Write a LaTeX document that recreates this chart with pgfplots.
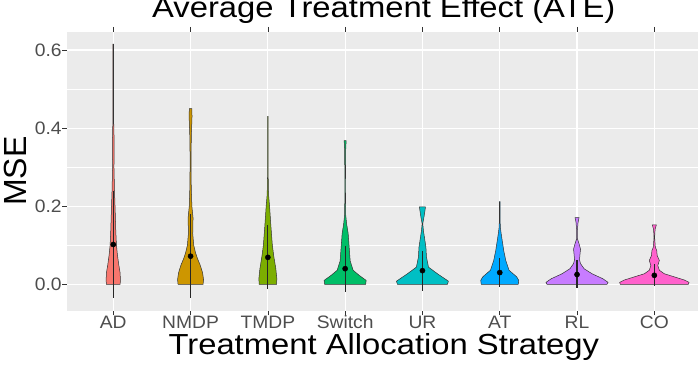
\documentclass[border=0pt]{standalone}
\usepackage{pgfplots}
\pgfplotsset{compat=1.18}
\usepackage{fontspec}
\setmainfont{Liberation Sans}
\newfontfamily\titlefont{Liberation Sans}[FakeStretch=1.13]
\newfontfamily\tickfont{Liberation Sans}[FakeStretch=1.07]

\definecolor{cAD}{HTML}{F8766D}
\definecolor{cNMDP}{HTML}{CD9600}
\definecolor{cTMDP}{HTML}{7CAE00}
\definecolor{cSwitch}{HTML}{00BE67}
\definecolor{cUR}{HTML}{00BFC4}
\definecolor{cAT}{HTML}{00A9FF}
\definecolor{cRL}{HTML}{C77CFF}
\definecolor{cCO}{HTML}{FF61CC}
\definecolor{panel}{HTML}{EBEBEB}
\definecolor{grey30}{HTML}{4D4D4D}
\definecolor{grey20}{HTML}{333333}

% mean and mean +/- sd per strategy
\pgfplotstableread{
x m ep em
1 0.102 0.137 0.138
2 0.072 0.109 0.108
3 0.069 0.083 0.082
4 0.040 0.059 0.060
5 0.035 0.051 0.052
6 0.030 0.038 0.037
7 0.025 0.036 0.034
8 0.023 0.030 0.028
}\meansd

\begin{document}
\begin{tikzpicture}[x=1pt,y=1pt]
\begin{axis}[
  at={(66.9pt,58.3pt)}, anchor=south west,
  scale only axis, width=633.8pt, height=279pt,
  xmin=0.4, xmax=8.6, ymin=-0.0676, ymax=0.6469,
  axis background/.style={fill=panel},
  axis line style={draw=none},
  xtick={1,...,8}, xticklabels={AD,NMDP,TMDP,Switch,UR,AT,RL,CO},
  ytick={0,0.2,0.4,0.6}, yticklabels={0.0,0.2,0.4,0.6},
  minor ytick={0.1,0.3,0.5},
  tick align=outside, major tick length=4.7pt, minor tick length=0pt,
  tick style={grey20, line width=0.6pt},
  xmajorgrids, ymajorgrids, yminorgrids,
  major grid style={white, line width=1.1pt},
  minor grid style={white, line width=0.55pt},
  ticklabel style={grey30, inner sep=0pt, font=\tickfont\fontsize{18}{21}\selectfont},
  xticklabel style={anchor=base, yshift=-12.9pt},
  yticklabel style={anchor=east, xshift=-0.3pt},
  every axis title shift=0pt,
  title={Average Treatment Effect (ATE)},
  title style={at={(0.5,1.0491)}, anchor=base, inner sep=0pt, font=\titlefont\fontsize{29}{33}\selectfont},
  xlabel={Treatment Allocation Strategy},
  xlabel style={at={(0.5,-0.157)}, anchor=base, inner sep=0pt, font=\titlefont\fontsize{29}{33}\selectfont},
  ylabel={MSE},
  ylabel style={at={(-0.063,0.5)}, anchor=base, inner sep=0pt, font=\fontsize{32}{36}\selectfont},
  violin/.style={draw=grey20, line width=0.5pt},
]

% AD
\addplot[violin, fill=cAD] table[row sep=\\, x expr=1+\thisrow{d}, y=y] {
y d\\
0 0.088\\ 0.01 0.093\\ 0.03 0.088\\ 0.05 0.071\\ 0.075 0.054\\ 0.1 0.041\\ 0.14 0.032\\
0.18 0.026\\ 0.24 0.016\\ 0.3 0.009\\ 0.36 0.012\\ 0.42 0.005\\ 0.5 0.004\\ 0.615 0.004\\
0.615 -0.004\\ 0.5 -0.004\\ 0.42 -0.005\\ 0.36 -0.012\\ 0.3 -0.009\\ 0.24 -0.016\\ 0.18 -0.026\\
0.14 -0.032\\ 0.1 -0.041\\ 0.075 -0.054\\ 0.05 -0.071\\ 0.03 -0.088\\ 0.01 -0.093\\ 0 -0.088\\
} -- cycle;

% NMDP
\addplot[violin, fill=cNMDP] table[row sep=\\, x expr=2+\thisrow{d}, y=y] {
y d\\
0 0.162\\ 0.012 0.168\\ 0.03 0.155\\ 0.05 0.123\\ 0.065 0.091\\ 0.08 0.065\\ 0.1 0.041\\ 0.13 0.028\\
0.17 0.032\\ 0.2 0.017\\ 0.25 0.009\\ 0.32 0.006\\ 0.38 0.010\\ 0.43 0.019\\ 0.45 0.016\\
0.45 -0.016\\ 0.43 -0.019\\ 0.38 -0.010\\ 0.32 -0.006\\ 0.25 -0.009\\ 0.2 -0.017\\ 0.17 -0.032\\
0.13 -0.028\\ 0.1 -0.041\\ 0.08 -0.065\\ 0.065 -0.091\\ 0.05 -0.123\\ 0.03 -0.155\\ 0.012 -0.168\\ 0 -0.162\\
} -- cycle;

% TMDP
\addplot[violin, fill=cTMDP] table[row sep=\\, x expr=3+\thisrow{d}, y=y] {
y d\\
0 0.113\\ 0.015 0.116\\ 0.04 0.103\\ 0.07 0.078\\ 0.1 0.058\\ 0.15 0.039\\ 0.2 0.022\\ 0.23 0.009\\
0.28 0.004\\ 0.35 0.004\\ 0.43 0.004\\
0.43 -0.004\\ 0.35 -0.004\\ 0.28 -0.004\\ 0.23 -0.009\\ 0.2 -0.022\\ 0.15 -0.039\\ 0.1 -0.058\\
0.07 -0.078\\ 0.04 -0.103\\ 0.015 -0.116\\ 0 -0.113\\
} -- cycle;

% Switch
\addplot[violin, fill=cSwitch] table[row sep=\\, x expr=4+\thisrow{d}, y=y] {
y d\\
0 0.265\\ 0.01 0.272\\ 0.023 0.181\\ 0.036 0.103\\ 0.06 0.065\\ 0.095 0.052\\ 0.13 0.039\\
0.155 0.019\\ 0.18 0.006\\ 0.25 0.004\\ 0.34 0.006\\ 0.368 0.013\\
0.368 -0.013\\ 0.34 -0.006\\ 0.25 -0.004\\ 0.18 -0.006\\ 0.155 -0.019\\ 0.13 -0.039\\
0.095 -0.052\\ 0.06 -0.065\\ 0.036 -0.103\\ 0.023 -0.181\\ 0.01 -0.272\\ 0 -0.265\\
} -- cycle;

% UR
\addplot[violin, fill=cUR] table[row sep=\\, x expr=5+\thisrow{d}, y=y] {
y d\\
0 0.323\\ 0.008 0.336\\ 0.027 0.194\\ 0.044 0.078\\ 0.07 0.052\\ 0.095 0.045\\ 0.112 0.032\\
0.137 0.013\\ 0.155 0.004\\ 0.171 0.019\\ 0.188 0.032\\ 0.198 0.039\\
0.198 -0.039\\ 0.188 -0.032\\ 0.171 -0.019\\ 0.155 -0.004\\ 0.137 -0.013\\ 0.112 -0.032\\
0.095 -0.045\\ 0.07 -0.052\\ 0.044 -0.078\\ 0.027 -0.194\\ 0.008 -0.336\\ 0 -0.323\\
} -- cycle;

% AT
\addplot[violin, fill=cAT] table[row sep=\\, x expr=6+\thisrow{d}, y=y] {
y d\\
0 0.239\\ 0.01 0.246\\ 0.019 0.220\\ 0.036 0.120\\ 0.061 0.078\\ 0.086 0.052\\ 0.112 0.032\\
0.129 0.019\\ 0.146 0.008\\ 0.17 0.004\\ 0.212 0.004\\
0.212 -0.004\\ 0.17 -0.004\\ 0.146 -0.008\\ 0.129 -0.019\\ 0.112 -0.032\\ 0.086 -0.052\\
0.061 -0.078\\ 0.036 -0.120\\ 0.019 -0.220\\ 0.01 -0.246\\ 0 -0.239\\
} -- cycle;

% RL
\addplot[violin, fill=cRL] table[row sep=\\, x expr=7+\thisrow{d}, y=y] {
y d\\
0 0.388\\ 0.005 0.401\\ 0.014 0.336\\ 0.027 0.194\\ 0.04 0.091\\ 0.053 0.045\\ 0.063 0.032\\
0.078 0.039\\ 0.09 0.045\\ 0.104 0.026\\ 0.116 0.006\\ 0.136 0.004\\ 0.158 0.013\\ 0.171 0.026\\
0.171 -0.026\\ 0.158 -0.013\\ 0.136 -0.004\\ 0.116 -0.006\\ 0.104 -0.026\\ 0.09 -0.045\\ 0.078 -0.039\\
0.063 -0.032\\ 0.053 -0.045\\ 0.04 -0.091\\ 0.027 -0.194\\ 0.014 -0.336\\ 0.005 -0.401\\ 0 -0.388\\
} -- cycle;

% CO
\addplot[violin, fill=cCO] table[row sep=\\, x expr=8+\thisrow{d}, y=y] {
y d\\
0 0.440\\ 0.005 0.449\\ 0.011 0.388\\ 0.019 0.259\\ 0.027 0.129\\ 0.036 0.065\\ 0.048 0.045\\
0.061 0.065\\ 0.074 0.036\\ 0.086 0.032\\ 0.095 0.013\\ 0.12 0.004\\ 0.141 0.010\\ 0.152 0.026\\
0.152 -0.026\\ 0.141 -0.010\\ 0.12 -0.004\\ 0.095 -0.013\\ 0.086 -0.032\\ 0.074 -0.036\\ 0.061 -0.065\\
0.048 -0.045\\ 0.036 -0.065\\ 0.027 -0.129\\ 0.019 -0.259\\ 0.011 -0.388\\ 0.005 -0.449\\ 0 -0.440\\
} -- cycle;

% mean +/- sd
\addplot[only marks, mark=*, mark size=2.6pt, black,
  error bars/.cd, y dir=both, y explicit, error mark=none,
  error bar style={line width=1.1pt, black!85}]
  table[x=x, y=m, y error plus=ep, y error minus=em] {\meansd};

\end{axis}
\pgfresetboundingbox
\path (0,0) rectangle (698,369);
\end{tikzpicture}
\end{document}
